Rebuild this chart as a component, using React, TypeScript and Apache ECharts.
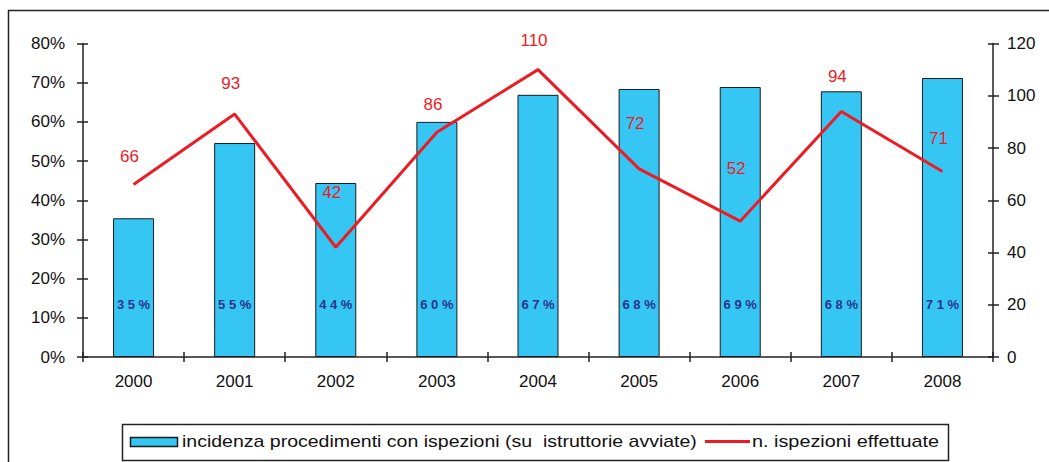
import React, { useEffect, useRef } from "react";
import * as echarts from "echarts";

const years = ["2000", "2001", "2002", "2003", "2004", "2005", "2006", "2007", "2008"];
const incidenza = [35.4, 54.6, 44.4, 60.0, 66.9, 68.4, 68.9, 67.8, 71.2];
const ispezioni = [66, 93, 42, 86, 110, 72, 52, 94, 71];
const barName = "incidenza procedimenti con ispezioni (su  istruttorie avviate)";
const lineName = "n. ispezioni effettuate";

// layout only: vertical lift of each line label above its point (px)
const lineLabelLift = [28, 30, 54, 27, 29, 45, 52, 34, 33];

const AX_FONT = "Liberation Sans, Arial, sans-serif";

export default function App() {
  const ref = useRef<HTMLDivElement>(null);
  useEffect(() => {
    if (!ref.current) return;
    const chart = echarts.init(ref.current, null, { renderer: "svg" });
    const axisLine = { show: true, lineStyle: { color: "#222", width: 1.5 } };
    const tickStyle = { color: "#222", width: 1.5 };
    chart.setOption({
      animation: false,
      backgroundColor: "#fff",
      grid: { left: 83, right: 56, top: 43.5, bottom: 105 },
      xAxis: [
        {
          type: "category",
          data: years,
          axisLine,
          axisTick: { show: true, length: 5, lineStyle: tickStyle },
          axisLabel: { color: "#111", fontFamily: AX_FONT, fontSize: 17, margin: 16 },
          splitLine: { show: false },
        },
        {
          type: "category",
          data: years,
          position: "bottom",
          axisLine: { show: false },
          axisTick: { show: true, inside: true, length: 5, lineStyle: tickStyle },
          axisLabel: { show: false },
        },
      ],
      yAxis: [
        {
          type: "value",
          min: 0,
          max: 80,
          interval: 10,
          position: "left",
          axisLine,
          axisTick: { show: true, length: 6, lineStyle: tickStyle },
          axisLabel: { formatter: "{value}%", color: "#111", fontFamily: AX_FONT, fontSize: 17, margin: 18 },
          splitLine: { show: false },
        },
        {
          type: "value",
          min: 0,
          max: 120,
          interval: 20,
          position: "right",
          axisLine,
          axisTick: { show: true, length: 6, lineStyle: tickStyle },
          axisLabel: { color: "#111", fontFamily: AX_FONT, fontSize: 17, margin: 14 },
          splitLine: { show: false },
        },
        {
          type: "value",
          min: 0,
          max: 80,
          interval: 10,
          position: "left",
          axisLine: { show: false },
          axisTick: { show: true, inside: true, length: 5, lineStyle: tickStyle },
          axisLabel: { show: false },
          splitLine: { show: false },
        },
        {
          type: "value",
          min: 0,
          max: 120,
          interval: 20,
          position: "right",
          axisLine: { show: false },
          axisTick: { show: true, inside: true, length: 5, lineStyle: tickStyle },
          axisLabel: { show: false },
          splitLine: { show: false },
        },
      ],
      series: [
        {
          name: barName,
          type: "bar",
          xAxisIndex: 0,
          yAxisIndex: 0,
          data: incidenza,
          barWidth: 41,
          itemStyle: { color: "#36c6f4", borderColor: "#1a1a1a", borderWidth: 1 },
          label: {
            show: true,
            position: "insideBottom",
            distance: 46,
            color: "#27358c",
            fontFamily: AX_FONT,
            fontSize: 13,
            fontWeight: "bold",
            formatter: (p: any) => String(Math.round(p.value)).split("").join(" ") + " %",
          },
          z: 2,
        },
        {
          name: lineName,
          type: "line",
          xAxisIndex: 0,
          yAxisIndex: 1,
          data: ispezioni.map((v, i) => ({
            value: v,
            label: {
              show: true,
              position: "top",
              distance: 0,
              offset: [-4, -(lineLabelLift[i] - 9)],
              color: "#ec1c24",
              fontFamily: AX_FONT,
              fontSize: 17,
            },
          })),
          symbol: "circle",
          symbolSize: 2,
          showSymbol: true,
          showAllSymbol: true,
          itemStyle: { color: "rgba(236,28,36,0)" },
          lineStyle: { color: "#ec1c24", width: 3 },
          label: {
            show: true,
            position: "top",
            distance: 0,
            color: "#ec1c24",
            fontFamily: AX_FONT,
            fontSize: 17,
          },
          z: 3,
        },
      ],
      graphic: [
        {
          type: "rect",
          shape: { x: 8.5, y: 10.5, width: 1200, height: 600 },
          style: { fill: "none", stroke: "#222", lineWidth: 1.5 },
          silent: true,
          z: -10,
        },
        {
          type: "rect",
          shape: { x: 122.5, y: 424.5, width: 826, height: 36 },
          style: { fill: "#fff", stroke: "#222", lineWidth: 1.5 },
          silent: true,
        },
        {
          type: "rect",
          shape: { x: 130.5, y: 437.5, width: 47, height: 9 },
          style: { fill: "#36c6f4", stroke: "#1a1a1a", lineWidth: 1.5 },
          silent: true,
        },
        {
          type: "text",
          x: 182,
          y: 442,
          scaleX: 1.22,
          style: {
            text: barName,
            fill: "#111",
            font: "16px Liberation Sans, Arial, sans-serif",
            textAlign: "left",
            textVerticalAlign: "middle",
          },
          silent: true,
        },
        {
          type: "line",
          shape: { x1: 705, y1: 441.5, x2: 750, y2: 441.5 },
          style: { stroke: "#ec1c24", lineWidth: 3 },
          silent: true,
        },
        {
          type: "text",
          x: 752,
          y: 442,
          scaleX: 1.24,
          style: {
            text: lineName,
            fill: "#111",
            font: "16px Liberation Sans, Arial, sans-serif",
            textAlign: "left",
            textVerticalAlign: "middle",
          },
          silent: true,
        },
      ],
    });
    return () => chart.dispose();
  }, []);
  return (
    <div
      ref={ref}
      style={{ position: "absolute", left: 0, top: 0, width: 1049, height: 462 }}
    />
  );
}
